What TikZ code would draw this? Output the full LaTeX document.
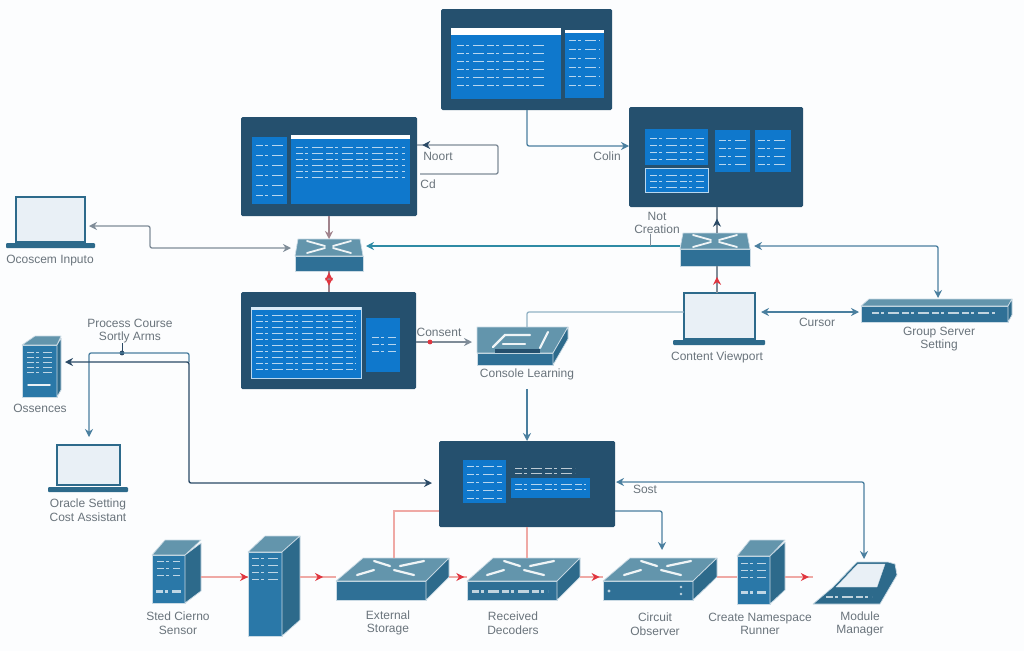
\documentclass[tikz,border=0pt]{standalone}
\usepackage{fontspec}
\setmainfont{Liberation Sans}
\usetikzlibrary{arrows.meta,calc,decorations.markings}

\definecolor{panelblue}{HTML}{25506E}
\definecolor{screenblue}{HTML}{0F78CC}
\definecolor{frontblue}{HTML}{2F7096}
\definecolor{towerblue}{HTML}{2A78A8}
\definecolor{topblue}{HTML}{6395AC}
\definecolor{sideblue}{HTML}{2D6A8B}
\definecolor{wireblue}{HTML}{4A7F9F}
\definecolor{wireteal}{HTML}{2F8BA5}
\definecolor{wirenavy}{HTML}{2B4A66}
\definecolor{wiregrey}{HTML}{7F8C98}
\definecolor{tipred}{HTML}{E0353F}
\definecolor{wirered}{HTML}{EFA9A5}
\definecolor{lapfill}{HTML}{E9F0F6}
\definecolor{labelgrey}{HTML}{6A747C}
\definecolor{paperwhite}{HTML}{FCFDFE}

\tikzset{
	panel/.style={fill=panelblue, rounded corners=1.5pt, inner sep=0pt, outer sep=0pt},
	screen/.style={fill=screenblue, inner sep=0pt, outer sep=0pt},
	outscreen/.style={screen, draw=white!70!screenblue, line width=0.8pt},
	front/.style={fill=frontblue, draw=white!75!frontblue, line width=0.7pt, inner sep=0pt, outer sep=0pt},
	tower/.style={front, fill=towerblue},
	lapscreen/.style={fill=lapfill, draw=sideblue, line width=1.6pt, inner sep=0pt, outer sep=0pt},
	lapbase/.style={fill=sideblue, rounded corners=1pt, inner sep=0pt, outer sep=0pt},
	topface/.style={fill=topblue, draw=white!75!frontblue, line width=0.7pt, line join=round},
	sideface/.style={fill=sideblue, draw=white!75!frontblue, line width=0.7pt, line join=round},
	txtrow/.style={white, line width=0.6pt, opacity=0.7, dash pattern=on 7pt off 2pt on 3pt off 4pt on 11pt off 3pt},
	glyph/.style={white, line width=2.2pt, opacity=0.9, line cap=round},
	lbl/.style={text=labelgrey, align=center, inner sep=0pt, font=\fontsize{12}{13.5}\selectfont},
	wire/.style={wireblue, line width=1.3pt, rounded corners=2pt},
	tipat/.style 2 args={postaction={decorate,decoration={markings,mark=at position #1 with {\arrow{Stealth[length=8pt,width=8pt,color=#2]}}}}},
	tipback/.style 2 args={postaction={decorate,decoration={markings,mark=at position #1 with {\arrow{Stealth[reversed,length=8pt,width=8pt,color=#2]}}}}},
}

% corners given as x0,y0,x1,y1 in pixels
\newcommand{\blocknode}[6]{
	\node [#1, minimum width=\fpeval{#5-#3}pt, minimum height=\fpeval{#6-#4}pt]
		(#2) at (\fpeval{(#3+#5)/2},\fpeval{(#4+#6)/2}) {};
}
\newcommand{\boxtop}[4]{
	\filldraw [topface] (#1.north west) -- +(#2,#4) -- ($(#1.north east)+(#3,#4)$) -- (#1.north east) -- cycle;
}
\newcommand{\boxside}[3]{
	\filldraw [sideface] (#1.north east) -- +(#2,#3) -- ($(#1.south east)+(#2,#3)$) -- (#1.south east) -- cycle;
}
\newcommand{\txtrows}[5]{
	\foreach \yy in {#3,\fpeval{#3+#5},...,#4}
		\draw [txtrow] (#1,\yy) -- (#2,\yy);
}
\newcommand{\wideglyph}[2]{
	\begin{scope}[shift={(#1,#2)}]
		\draw [glyph] (-23,-7) -- (-7,-2);
		\draw [glyph] (3,-2) -- (27,-7);
		\draw [glyph] (-40,7) -- (-23,2);
		\draw [glyph] (-3,2) -- (17,7);
	\end{scope}
}
\newcommand{\flatglyph}[2]{
	\begin{scope}[shift={(#1,#2)}]
		\draw [glyph, line width=1.8pt] (-22,-6) -- (-4,-1);
		\draw [glyph, line width=1.8pt] (22,-6) -- (4,-1);
		\draw [glyph, line width=1.8pt] (-22,6) -- (-4,1);
		\draw [glyph, line width=1.8pt] (22,6) -- (4,1);
	\end{scope}
}

\begin{document}
\begin{tikzpicture}[x=1pt, y=-1pt, >={Stealth[length=8pt,width=8pt]}]

\path [use as bounding box, fill=paperwhite] (0,0) rectangle (1024,651);

% PANELS
\blocknode{panel}{topPanel}{441}{9}{612}{110}
\blocknode{screen}{topMain}{451}{28}{561}{99}
\blocknode{screen}{topSide}{565}{30}{604}{98}
\fill [white] (451,28) rectangle (561,35);
\fill [white] (565,30) rectangle (604,33);
\txtrows{457}{545}{45}{88}{8}
\txtrows{569}{600}{40}{90}{9}

\blocknode{panel}{leftPanel}{241}{117}{417}{216}
\blocknode{screen}{leftSide}{252}{137}{287}{204}
\blocknode{screen}{leftMain}{291}{135}{410}{204}
\fill [white] (291,135) rectangle (410,139);
\txtrows{256}{283}{145}{198}{10}
\txtrows{296}{405}{147}{180}{6}

\blocknode{panel}{rightPanel}{629}{107}{803}{207}
\blocknode{screen}{rightA}{645}{129}{708}{165}
\blocknode{screen}{rightB}{715}{130}{750}{172}
\blocknode{screen}{rightC}{755}{130}{791}{172}
\blocknode{outscreen}{rightD}{645}{168}{708}{192}
\txtrows{650}{704}{138}{160}{7}
\txtrows{719}{747}{140}{165}{8}
\txtrows{758}{788}{140}{165}{8}
\txtrows{650}{704}{175}{187}{6}

\blocknode{panel}{midPanel}{241}{292}{416}{389}
\blocknode{outscreen}{midMain}{251}{307}{361}{378}
\blocknode{screen}{midSide}{366}{318}{400}{372}
\fill [white!85!screenblue] (251,307) rectangle (361,310);
\txtrows{256}{356}{315}{372}{6}
\txtrows{372}{396}{337}{352}{7}

\blocknode{panel}{lowPanel}{439}{441}{615}{527}
\blocknode{screen}{lowA}{463}{460}{506}{503}
\blocknode{screen}{lowB}{511}{478}{590}{498}
\txtrows{467}{502}{466}{498}{8}
\txtrows{515}{586}{484}{493}{5}
\txtrows{515}{575}{468}{473}{5}

% SWITCHES
\blocknode{front}{swLeft}{295}{256}{363}{271}
\boxtop{swLeft}{3}{-3}{-17}
\flatglyph{329}{247}
\blocknode{front}{swRight}{680}{249}{750}{266}
\boxtop{swRight}{3}{-3}{-16}
\flatglyph{715}{241}
\blocknode{front}{swCore}{477}{353}{553}{365}
\boxtop{swCore}{0}{15}{-26}
\boxside{swCore}{15}{-26}
\draw [glyph] (493,347) -- (505,335) -- (530,335);
\draw [glyph] (503,344) -- (525,344);
\draw [glyph] (540,348) -- (548,332);
\fill [panelblue] (495,349) rectangle (540,353);

\blocknode{front}{swRack}{861}{306}{1008}{322}
\boxtop{swRack}{8}{4}{-7}
\boxside{swRack}{4}{-7}
\draw [txtrow, line width=2.4pt] (872,313) -- (995,313);

\blocknode{front}{swExt}{336}{581}{426}{600}
\boxtop{swExt}{27}{23}{-23}
\boxside{swExt}{23}{-23}
\wideglyph{397}{568}
\blocknode{front}{swRec}{467}{581}{557}{600}
\boxtop{swRec}{26}{23}{-23}
\boxside{swRec}{23}{-23}
\wideglyph{527}{568}
\draw [txtrow, line width=3pt] (472,591) -- (548,591);
\blocknode{front}{swObs}{603}{581}{693}{600}
\boxtop{swObs}{27}{24}{-23}
\boxside{swObs}{24}{-23}
\wideglyph{664}{568}
\fill [white!70!frontblue] (681,587) circle (1.3) (681,594) circle (1.3) (609,591) circle (1.6);

% LAPTOPS
\blocknode{lapscreen}{lapLeft}{16}{197}{85}{242}
\blocknode{lapbase}{lapLeftBase}{6}{243}{95}{248}
\blocknode{lapscreen}{lapLow}{57}{445}{120}{485}
\blocknode{lapbase}{lapLowBase}{48}{487}{128}{492}
\blocknode{lapscreen}{lapMid}{684}{293}{755}{339}
\blocknode{lapbase}{lapMidBase}{673}{340}{765}{345}

% SERVERS
\blocknode{tower}{srvDoc}{22}{345}{57}{397}
\boxtop{srvDoc}{13}{4}{-9}
\boxside{srvDoc}{4}{-7}
\txtrows{27}{52}{352}{372}{5}
\draw [glyph, line width=1.5pt] (28,385) -- (50,385);

\blocknode{tower}{srvStd}{152}{555}{185}{603}
\boxtop{srvStd}{13}{16}{-15}
\boxside{srvStd}{16}{-12}
\txtrows{157}{180}{561}{575}{7}
\draw [txtrow, line width=3pt] (156,591) -- (181,591);
\blocknode{tower}{srvTower}{248}{552}{282}{636}
\boxtop{srvTower}{17}{18}{-16}
\boxside{srvTower}{18}{-16}
\txtrows{252}{278}{558}{580}{7}
\blocknode{tower}{srvRun}{737}{556}{770}{604}
\boxtop{srvRun}{13}{15}{-16}
\boxside{srvRun}{15}{-14}
\txtrows{741}{766}{563}{577}{7}
\draw [txtrow, line width=3pt] (741,592) -- (766,592);

% MODEM
\filldraw [sideface] (857,562) -- (888,562) -- (895,564) -- (897,575) -- (880,604) -- (813,604) -- (833,587) -- cycle;
\filldraw [fill=lapfill, draw=white!75!frontblue] (836,587) -- (858,564) -- (885,564) -- (877,587) -- cycle;
\draw [txtrow, line width=1.5pt] (826,597) -- (872,597);
\node [inner sep=0pt, outer sep=0pt, minimum width=84pt, minimum height=42pt] (modem) at (855,583) {};

% LABELS
\node [lbl] (txtLapLeft) at (50,261) {Ocoscem Inputo};
\node [lbl] (txtCourse) at (130,331) {Process Course\\Sortly Arms};
\node [lbl] (txtDoc) at (40,408) {Ossences};
\node [lbl] (txtLapLow) at (88,510) {Oracle Setting\\Cost Assistant};
\node [lbl] (txtLoopA) at (438,156) {Noort};
\node [lbl] (txtLoopB) at (428,184) {Cd};
\node [lbl] (txtColin) at (607,156) {Colin};
\node [lbl] (txtConn) at (657,223) {Not\\Creation};
\node [lbl] (txtConsent) at (439,332) {Consent};
\node [lbl] (txtCore) at (527,374) {Console Learning};
\node [lbl] (txtLapMid) at (717,357) {Content Viewport};
\node [lbl] (txtCursor) at (817,322) {Cursor};
\node [lbl] (txtRack) at (939,339) {Group Server\\Setting};
\node [lbl] (txtSost) at (645,489) {Sost};
\node [lbl] (txtStd) at (178,623) {Sted Cierno\\Sensor};
\node [lbl] (txtExt) at (388,623) {External\\Storage};
\node [lbl] (txtRec) at (513,623) {Received\\Decoders};
\node [lbl] (txtObs) at (655,624) {Circuit\\Observer};
\node [lbl] (txtRun) at (760,624) {Create Namespace\\Runner};
\node [lbl] (txtMod) at (860,624) {Module\\Manager};

% LANES
\coordinate (laneTop) at (527,146);
\coordinate (loopUp) at (498,145);
\coordinate (loopDn) at (498,174);
\coordinate (laneLap) at (150,226);
\coordinate (laneSw) at (150,248);
\coordinate (laneRack) at (938,246);
\coordinate (laneMid) at (684,312);
\coordinate (laneCore) at (527,312);
\coordinate (laneHub) at (189,362);
\coordinate (laneOver) at (189,353);
\coordinate (laneLow) at (189,483);
\coordinate (laneDrop) at (89,353);
\coordinate (laneSost) at (864,482);
\coordinate (laneObs) at (662,511);
\coordinate (laneRed) at (394,511);
\coordinate (laneChain) at (527,577);

% TOP CONNECTORS
\draw [wire, ->] (topPanel.south -| laneTop) |- (rightPanel.west |- laneTop);
\draw [wire, wiregrey, shorten >=3pt, tipback={0.07}{wirenavy}] (leftPanel.east |- loopUp) -- (loopUp) -- (loopDn) -- (leftPanel.east |- loopDn);
\draw [wire, {Stealth[length=8pt,width=8pt]}-{Stealth[length=8pt,width=8pt]}, wiregrey, shorten <=4pt, shorten >=4pt]
	(lapLeft.east |- laneLap) -- (laneLap) -- (laneSw) -- (swLeft.west |- laneSw);
\draw [wire, wireteal, ->, shorten >=3pt] (swRight.west |- laneRack) -- (swLeft.east |- laneRack);
\draw [wire, {Stealth[length=8pt,width=8pt]}-{Stealth[length=8pt,width=8pt]}, shorten <=4pt, shorten >=8pt]
	(swRight.east |- laneRack) -| (swRack.north -| laneRack);
\draw [wire, <->, shorten <=6pt, shorten >=2pt] (lapMid.east) ++(0,-4) coordinate (lapOut) -- (swRack.west |- lapOut);
\draw [wire, white!40!wireblue] (swCore.north -| laneCore) ++(0,-26) -- (laneCore) -- (lapMid.west |- laneCore);

% VERTICAL CONNECTORS
\draw [wiregrey, line width=1.2pt, tipat={0.55}{wirenavy}] ($(swRight.north)+(2,-16)$) -- (rightPanel.south -| 717,0);
\draw [wiregrey, line width=1.2pt, tipat={0.6}{tipred}] (lapMid.north -| 717,0) -- ($(swRight.south)+(2,0)$);
\draw [wirered!60!wirenavy, line width=1.2pt, ->] (leftPanel.south -| 329,0) -- ($(swLeft.north)+(0,-17)$);
\draw [wirered!60!wirenavy, line width=1.2pt, tipback={0.45}{tipred}, tipat={0.7}{tipred}] (swLeft.south) -- (midPanel.north -| swLeft.south);
\draw [wire, ->] (txtCore.south -| laneCore) ++(0,9) -- (lowPanel.north -| laneCore);
\draw [wiregrey, line width=0.8pt] (txtConn.south -| 650,0) -- (650,246);
\draw [wirenavy, line width=0.8pt] (txtCourse.south -| 122,0) -- (122,353);
\fill [wirenavy] (122,353) circle (2.4);

% MID CONNECTORS
\draw [wiregrey, line width=1.2pt, ->, shorten >=5pt] (midPanel.east |- 0,342) coordinate (midOut) -- (swCore.west |- midOut);
\fill [tipred] (430,342) circle (2.4);
\draw [wire, ->, line width=1.3pt, shorten >=8pt] (laneHub) -- (laneOver) -- (laneDrop) -- (lapLow.north -| laneDrop);
\draw [wire, wirenavy, line width=1.4pt, <->, shorten <=8pt, shorten >=7pt]
	(srvDoc.east |- laneHub) -- (laneHub) -- (laneLow) -- (lowPanel.west |- laneLow);

% LOW CONNECTORS
\draw [wire, <->, shorten <=1pt, shorten >=3pt] (lowPanel.east |- laneSost) -| (modem.north -| laneSost);
\draw [wire, ->, shorten >=8pt] (lowPanel.east |- laneObs) -| ($(swObs.north)+(14,-23)$);
\draw [wirered, line width=1.2pt] (lowPanel.west |- laneRed) -| ($(swExt.north)+(13,-23)$);
\draw [wirered, line width=1.2pt] (lowPanel.south -| laneChain) -- ($(swRec.north)+(15,-23)$);

% CHAIN
\draw [wirered, line width=1.2pt, tipat={1}{tipred}] ($(srvStd.east |- laneChain)+(16,0)$) -- (srvTower.west |- laneChain);
\draw [wirered, line width=1.2pt, tipat={0.64}{tipred}] ($(srvTower.east |- laneChain)+(18,0)$) -- (swExt.west |- laneChain);
\draw [wirered, line width=1.2pt, tipat={0.85}{tipred}] ($(swExt.east |- laneChain)+(23,0)$) -- (swRec.west |- laneChain);
\draw [wirered, line width=1.2pt, tipat={0.85}{tipred}] ($(swRec.east |- laneChain)+(23,0)$) -- (swObs.west |- laneChain);
\draw [wirered, line width=1.2pt] ($(swObs.east |- laneChain)+(24,0)$) -- (srvRun.west |- laneChain);
\draw [wirered, line width=1.2pt, tipat={0.85}{tipred}] ($(srvRun.east |- laneChain)+(15,0)$) -- (modem.west |- laneChain);

\end{tikzpicture}
\end{document}
